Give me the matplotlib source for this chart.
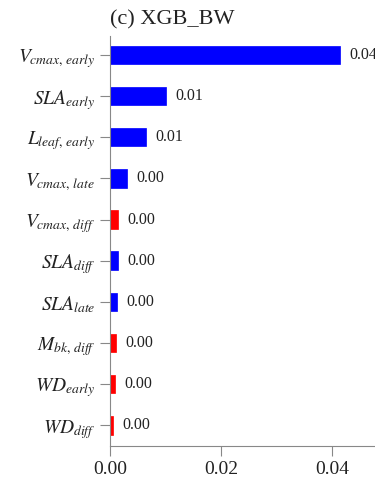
import numpy as np
import matplotlib.pyplot as plt

plt.rcParams['font.family'] = ['Liberation Serif', 'DejaVu Serif']
plt.rcParams['mathtext.fontset'] = 'stix'

# Feature importance, listed top to bottom
features = [r'$V_{cmax,\,early}$', r'$SLA_{early}$', r'$L_{leaf,\,early}$',
            r'$V_{cmax,\,late}$', r'$V_{cmax,\,diff}$', r'$SLA_{diff}$',
            r'$SLA_{late}$', r'$M_{bk,\,diff}$', r'$WD_{early}$', r'$WD_{diff}$']
importance = [0.0414, 0.0101, 0.0065, 0.0031, 0.0014, 0.0014,
              0.0013, 0.0011, 0.0010, 0.0005]
colors = ['#0000ff', '#0000ff', '#0000ff', '#0000ff', '#ff0000', '#0000ff',
          '#0000ff', '#ff0000', '#ff0000', '#ff0000']

fig = plt.figure(figsize=(3.75, 4.79), dpi=100)
ax = fig.add_axes([0.293, 0.069, 0.74, 0.856])

y = np.arange(len(features))[::-1]
ax.barh(y, importance, height=0.45, color=colors, edgecolor=colors, linewidth=0.5)

for yi, v in zip(y, importance):
    ax.text(v + 0.0017, yi, f'{v:.2f}', va='center', ha='left', fontsize=11.5,
            color='#222222')

ax.set_yticks(y)
ax.set_yticklabels(features, fontsize=14)
ax.set_xticks([0.0, 0.02, 0.04])
ax.set_xticklabels(['0.00', '0.02', '0.04'], fontsize=14)
ax.set_xlim(0, 0.05)
ax.set_ylim(-0.5, 9.46)

for side in ['top', 'right']:
    ax.spines[side].set_visible(False)
for side in ['left', 'bottom']:
    ax.spines[side].set_color('#888888')
ax.tick_params(color='#888888', length=7, labelcolor='#222222')

ax.set_title('(c) XGB_BW', loc='left', fontsize=16, pad=8, color='#222222')

fig.savefig('out.png', dpi=100)
